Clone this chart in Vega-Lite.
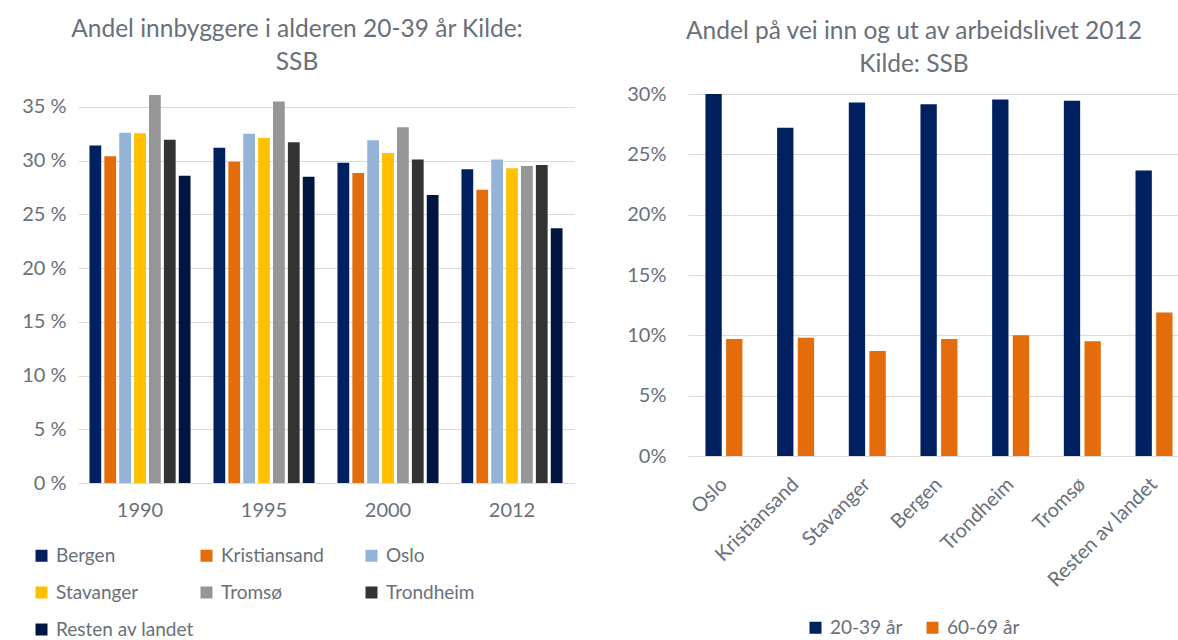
{
  "$schema": "https://vega.github.io/schema/vega-lite/v6.json",
  "background": "white",
  "padding": {"left": 21, "top": 17, "right": 0, "bottom": 0},
  "bounds": "flush",
  "spacing": 114,
  "resolve": {"scale": {"color": "independent", "xOffset": "independent"}, "legend": {"color": "independent"}},
  "config": {
    "font": "Lato",
    "view": {"stroke": null},
    "axis": {"labelFont": "Lato", "labelColor": "#68707a", "labelFontSize": 20, "gridColor": "#d9d9d9", "domain": false, "ticks": false, "title": null},
    "legend": {"labelFont": "Lato", "labelColor": "#68707a", "labelFontSize": 19, "symbolType": "square", "symbolSize": 144, "symbolStrokeWidth": 0, "title": null, "labelOffset": 5, "labelLimit": 300},
    "title": {"font": "Lato", "fontSize": 24.5, "fontWeight": "normal", "color": "#68707a", "lineHeight": 32.5, "anchor": "middle", "frame": "group"}
  },
  "datasets": {
    "innb": [
      {"aar": "1990", "by": "Bergen", "andel": 31.4},
      {"aar": "1990", "by": "Kristiansand", "andel": 30.4},
      {"aar": "1990", "by": "Oslo", "andel": 32.6},
      {"aar": "1990", "by": "Stavanger", "andel": 32.55},
      {"aar": "1990", "by": "Tromsø", "andel": 36.1},
      {"aar": "1990", "by": "Trondheim", "andel": 31.95},
      {"aar": "1990", "by": "Resten av landet", "andel": 28.6},
      {"aar": "1995", "by": "Bergen", "andel": 31.2},
      {"aar": "1995", "by": "Kristiansand", "andel": 29.9},
      {"aar": "1995", "by": "Oslo", "andel": 32.5},
      {"aar": "1995", "by": "Stavanger", "andel": 32.1},
      {"aar": "1995", "by": "Tromsø", "andel": 35.5},
      {"aar": "1995", "by": "Trondheim", "andel": 31.7},
      {"aar": "1995", "by": "Resten av landet", "andel": 28.5},
      {"aar": "2000", "by": "Bergen", "andel": 29.8},
      {"aar": "2000", "by": "Kristiansand", "andel": 28.85},
      {"aar": "2000", "by": "Oslo", "andel": 31.9},
      {"aar": "2000", "by": "Stavanger", "andel": 30.7},
      {"aar": "2000", "by": "Tromsø", "andel": 33.1},
      {"aar": "2000", "by": "Trondheim", "andel": 30.1},
      {"aar": "2000", "by": "Resten av landet", "andel": 26.8},
      {"aar": "2012", "by": "Bergen", "andel": 29.2},
      {"aar": "2012", "by": "Kristiansand", "andel": 27.3},
      {"aar": "2012", "by": "Oslo", "andel": 30.1},
      {"aar": "2012", "by": "Stavanger", "andel": 29.3},
      {"aar": "2012", "by": "Tromsø", "andel": 29.5},
      {"aar": "2012", "by": "Trondheim", "andel": 29.6},
      {"aar": "2012", "by": "Resten av landet", "andel": 23.7}
    ],
    "arb": [
      {"by": "Oslo", "gruppe": "20-39 år", "andel": 30.0},
      {"by": "Oslo", "gruppe": "60-69 år", "andel": 9.7},
      {"by": "Kristiansand", "gruppe": "20-39 år", "andel": 27.2},
      {"by": "Kristiansand", "gruppe": "60-69 år", "andel": 9.8},
      {"by": "Stavanger", "gruppe": "20-39 år", "andel": 29.3},
      {"by": "Stavanger", "gruppe": "60-69 år", "andel": 8.7},
      {"by": "Bergen", "gruppe": "20-39 år", "andel": 29.15},
      {"by": "Bergen", "gruppe": "60-69 år", "andel": 9.7},
      {"by": "Trondheim", "gruppe": "20-39 år", "andel": 29.55},
      {"by": "Trondheim", "gruppe": "60-69 år", "andel": 10.0},
      {"by": "Tromsø", "gruppe": "20-39 år", "andel": 29.45},
      {"by": "Tromsø", "gruppe": "60-69 år", "andel": 9.5},
      {"by": "Resten av landet", "gruppe": "20-39 år", "andel": 23.65},
      {"by": "Resten av landet", "gruppe": "60-69 år", "andel": 11.9}
    ]
  },
  "hconcat": [
    {
      "width": 496,
      "height": 389,
      "data": {"name": "innb"},
      "title": {"text": ["Andel innbyggere i alderen 20-39 år Kilde:", "SSB"], "dx": -29, "offset": 19},
      "mark": {"type": "bar"},
      "encoding": {
        "x": {"field": "aar", "type": "nominal", "scale": {"paddingInner": 0.185, "paddingOuter": 0.0925}, "axis": {"labelAngle": 0, "labelPadding": 17, "labelBaseline": "top"}},
        "xOffset": {"field": "by", "type": "nominal", "sort": ["Bergen", "Kristiansand", "Oslo", "Stavanger", "Tromsø", "Trondheim", "Resten av landet"], "scale": {"paddingInner": 0.21}},
        "y": {"field": "andel", "type": "quantitative", "scale": {"domain": [0, 36.2], "nice": false}, "axis": {"values": [0, 5, 10, 15, 20, 25, 30, 35], "labelExpr": "datum.value + ' %'", "labelPadding": 12}},
        "color": {
          "field": "by", "type": "nominal",
          "scale": {"domain": ["Bergen", "Kristiansand", "Oslo", "Stavanger", "Tromsø", "Trondheim", "Resten av landet"], "range": ["#002060", "#e46c0a", "#95b3d7", "#ffc000", "#969696", "#333333", "#001540"]},
          "legend": {"orient": "none", "direction": "horizontal", "legendX": -46, "legendY": 452, "columns": 3, "gridAlign": "all", "columnPadding": 3, "rowPadding": 17}
        }
      }
    },
    {
      "width": 490,
      "height": 362,
      "data": {"name": "arb"},
      "title": {"text": ["Andel på vei inn og ut av arbeidslivet 2012", "Kilde: SSB"], "dx": -19, "offset": 7},
      "mark": {"type": "bar"},
      "encoding": {
        "x": {"field": "by", "type": "nominal", "sort": ["Oslo", "Kristiansand", "Stavanger", "Bergen", "Trondheim", "Tromsø", "Resten av landet"], "scale": {"paddingInner": 0.484, "paddingOuter": 0.16, "align": 0.76}, "axis": {"labelAngle": -45, "labelAlign": "right", "labelBaseline": "middle", "labelPadding": 25}},
        "xOffset": {"field": "gruppe", "type": "nominal", "scale": {"paddingInner": 0.21}},
        "y": {"field": "andel", "type": "quantitative", "scale": {"domain": [0, 30], "nice": false}, "axis": {"values": [0, 5, 10, 15, 20, 25, 30], "labelExpr": "datum.value + '%'", "labelPadding": 22}},
        "color": {
          "field": "gruppe", "type": "nominal",
          "scale": {"domain": ["20-39 år", "60-69 år"], "range": ["#002060", "#e46c0a"]},
          "legend": {"orient": "none", "legendX": 118, "legendY": 524, "direction": "horizontal", "columnPadding": 20}
        }
      }
    }
  ]
}
